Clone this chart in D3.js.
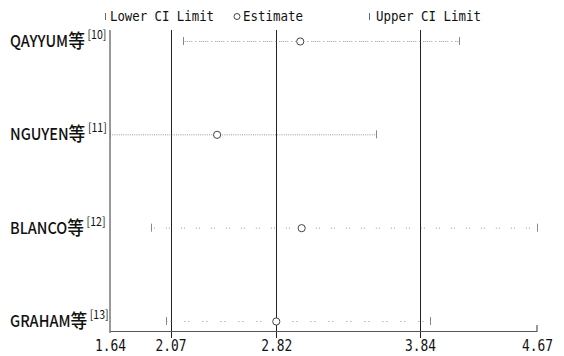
<!DOCTYPE html>
<html><head><meta charset="utf-8">
<script src="https://cdn.jsdelivr.net/npm/d3@7"></script>
<style>body{margin:0;background:#fff}svg{display:block}</style>
</head><body>
<script>
const studies = ["QAYYUM", "NGUYEN", "BLANCO", "GRAHAM"];
const refs = ["[10]", "[11]", "[12]", "[13]"];
const lower = [2.16, 1.64, 1.93, 2.04];
const estimate = [2.99, 2.40, 3.00, 2.82];
const upper = [4.12, 3.53, 4.67, 3.91];
const tickValues = [1.64, 2.07, 2.82, 3.84, 4.67];
const refLines = [2.07, 2.82, 3.84];
const dashes = ["1,1,1,1,1,1,1,1,1,3,1,3", "1,1.2", "1,2,1,11", "1,3,1,13"];

const W = 564, H = 356;
const svg = d3.select("body").append("svg").attr("width", W).attr("height", H);
const x = d3.scaleLinear().domain([1.64, 4.67]).range([110, 537]);
const y = d3.scalePoint().domain(studies).range([41, 321]);
const axisY = 331, topY = 30;
const mono = "'DejaVu Sans Mono','Liberation Mono',monospace";
const cjk = "'Noto Sans CJK SC','Noto Sans',sans-serif";

svg.append("line").attr("x1", x(1.64)).attr("x2", x(1.64)).attr("y1", topY).attr("y2", axisY + 2)
  .attr("stroke", "#555").attr("stroke-width", 1.2);
svg.selectAll(".ref").data(refLines).join("line")
  .attr("x1", d => Math.round(x(d)) + 0.5).attr("x2", d => Math.round(x(d)) + 0.5)
  .attr("y1", topY).attr("y2", axisY + 7).attr("stroke", "#222").attr("stroke-width", 1);

const axis = d3.axisBottom(x).tickValues(tickValues).tickSize(0).tickFormat(d3.format(".2f"));
const gAx = svg.append("g").attr("transform", `translate(0,${axisY})`).call(axis);
gAx.select(".domain").attr("stroke", "#555").attr("stroke-width", 1.2);
gAx.selectAll("text").attr("font-family", mono).attr("font-size", 15).attr("fill", "#111")
  .attr("dy", "1.1em").attr("textLength", 31).attr("lengthAdjust", "spacingAndGlyphs");
svg.append("line").attr("x1", x(4.67)).attr("x2", x(4.67)).attr("y1", axisY - 6).attr("y2", axisY)
  .attr("stroke", "#555").attr("stroke-width", 1.2);

const rows = svg.selectAll(".row").data(studies).join("g").attr("class", "row");
rows.append("line")
  .attr("x1", (d, i) => x(lower[i])).attr("x2", (d, i) => x(upper[i]))
  .attr("y1", d => y(d) + 0.5).attr("y2", d => y(d) + 0.5)
  .attr("stroke", "#999").attr("stroke-width", 1)
  .attr("stroke-dasharray", (d, i) => dashes[i]);
rows.append("line")
  .attr("x1", (d, i) => Math.round(x(lower[i])) + 0.5).attr("x2", (d, i) => Math.round(x(lower[i])) + 0.5)
  .attr("y1", d => y(d) - 4).attr("y2", d => y(d) + 4).attr("stroke", "#888");
rows.append("line")
  .attr("x1", (d, i) => Math.round(x(upper[i])) + 0.5).attr("x2", (d, i) => Math.round(x(upper[i])) + 0.5)
  .attr("y1", d => y(d) - 4).attr("y2", d => y(d) + 4).attr("stroke", "#888");
rows.append("circle")
  .attr("cx", (d, i) => x(estimate[i])).attr("cy", d => y(d) + 0.5).attr("r", 3.6)
  .attr("fill", "#fff").attr("stroke", "#444").attr("stroke-width", 1);

rows.each(function(d, i) {
  const g = d3.select(this).append("g")
    .attr("transform", `translate(10,${y(d) + 6}) scale(0.88,1)`);
  const t = g.append("text").attr("x", 0).attr("y", 0)
    .attr("font-family", cjk).attr("font-weight", 500).attr("fill", "#111");
  t.append("tspan").attr("font-size", 16.5).text(d);
  t.append("tspan").attr("font-size", 19).attr("dy", 1).text("等");
  t.append("tspan").attr("font-size", 12).attr("font-weight", 400).attr("dx", 3).attr("dy", -9)
    .text(refs[i]);
});

const lg = svg.append("g");
const legY = 21;
lg.append("line").attr("x1", 105.5).attr("x2", 105.5).attr("y1", legY - 8).attr("y2", legY - 1).attr("stroke", "#666");
lg.append("text").attr("x", 110).attr("y", legY).attr("font-family", mono).attr("font-size", 13.5)
  .attr("fill", "#111").attr("textLength", 104).attr("lengthAdjust", "spacingAndGlyphs").text("Lower CI Limit");
lg.append("circle").attr("cx", 237).attr("cy", legY - 4.5).attr("r", 3).attr("fill", "#fff").attr("stroke", "#444");
lg.append("text").attr("x", 243).attr("y", legY).attr("font-family", mono).attr("font-size", 13.5)
  .attr("fill", "#111").attr("textLength", 60).attr("lengthAdjust", "spacingAndGlyphs").text("Estimate");
lg.append("line").attr("x1", 369.5).attr("x2", 369.5).attr("y1", legY - 8).attr("y2", legY - 1).attr("stroke", "#666");
lg.append("text").attr("x", 376).attr("y", legY).attr("font-family", mono).attr("font-size", 13.5)
  .attr("fill", "#111").attr("textLength", 105).attr("lengthAdjust", "spacingAndGlyphs").text("Upper CI Limit");
</script>
</body></html>
